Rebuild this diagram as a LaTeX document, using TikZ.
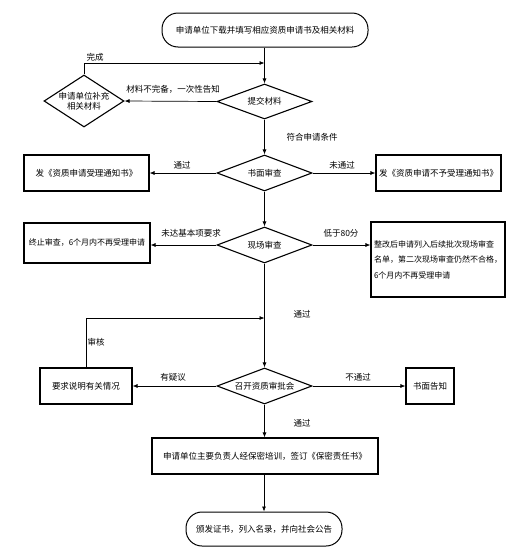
\documentclass[tikz,border=0pt]{standalone}
\usepackage{fontspec}
\setmainfont{Noto Sans CJK SC}
\usetikzlibrary{shapes.geometric,arrows.meta}
\begin{document}
\begin{tikzpicture}[x=1pt,y=-1pt,
  font=\fontsize{8.5}{10}\selectfont,
  box/.style={draw, line width=1.1pt, inner sep=0pt},
  term/.style={draw, line width=1pt, rounded corners=16pt, inner sep=0pt},
  dia/.style={draw, diamond, line width=1.1pt, inner sep=0pt, aspect=2.7},
  conn/.style={line width=0.7pt, -{Latex[length=5pt,width=4pt]}},
  lab/.style={inner sep=1pt}]
\useasboundingbox (0,0) rectangle (521,552);

% nodes
\node[term, minimum width=206, minimum height=34] (start) at (265,30) {申请单位下载并填写相应资质申请书及相关材料};
\node[dia, minimum width=95, minimum height=35] (submit) at (264.5,101.5) {提交材料};
\node[dia, aspect=1.54, inner sep=-3pt, minimum width=80, minimum height=52, align=center] (supp) at (84,101) {申请单位补充\\相关材料};
\node[dia, minimum width=95, minimum height=36] (written) at (264.5,173) {书面审查};
\node[box, minimum width=125, minimum height=36] (accept) at (86.5,173) {发《资质申请受理通知书》};
\node[box, minimum width=125, minimum height=36] (reject) at (438.5,173) {发《资质申请不予受理通知书》};
\node[dia, minimum width=95, minimum height=36] (site) at (264.5,245) {现场审查};
\node[box, minimum width=126, minimum height=40, font=\fontsize{8}{10}\selectfont] (stop) at (87,243) {终止审查，6个月内不再受理申请};
\node[box, minimum width=134, minimum height=75, text width=128, align=left,
      font=\fontsize{8}{15.5}\selectfont] (redo) at (438,259.5)
      {整改后申请列入后续批次现场审查\\名单，第二次现场审查仍然不合格，\\6个月内不再受理申请};
\node[dia, minimum width=95, minimum height=36] (meet) at (264.5,386) {召开资质审批会};
\node[box, minimum width=92, minimum height=36] (explain) at (86,386) {要求说明有关情况};
\node[box, minimum width=48, minimum height=36] (notify) at (430,386) {书面告知};
\node[box, minimum width=226, minimum height=36] (train) at (265,456) {申请单位主要负责人经保密培训，签订《保密责任书》};
\node[term, minimum width=156, minimum height=34] (issue) at (264,529) {颁发证书，列入名录，并向社会公告};

\coordinate (j1) at (264.5,63);
\coordinate (j2) at (264.5,318);

% connectors
\draw[conn] (start.south -| submit.north) -- (submit.north);
\draw[conn] (submit.west) -- (supp.east);
\draw[conn] (supp.north) |- (j1);
\draw[conn] (submit.south) -- (written.north);
\draw[conn] (written.west) -- (accept.east);
\draw[conn] (written.east) -- (reject.west);
\draw[conn] (written.south) -- (site.north);
\draw[conn] (site.west) -- (stop.east |- site.west);
\draw[conn] (site.east) -- (redo.west |- site.east);
\draw[conn] (site.south) -- (meet.north);
\draw[conn] (explain.north) |- (j2);
\draw[conn] (meet.west) -- (explain.east);
\draw[conn] (meet.east) -- (notify.west);
\draw[conn] (meet.south) -- (train.north -| meet.south);
\draw[conn] (train.south -| issue.north) -- (issue.north);

% labels
\node[lab] (l1) at (95,57) {完成};
\node[lab] (l2) at (173,89) {材料不完备，一次性告知};
\node[lab] (l3) at (312,137) {符合申请条件};
\node[lab] (l4) at (182,165) {通过};
\node[lab] (l5) at (342,165) {未通过};
\node[lab] (l6) at (191,233) {未达基本项要求};
\node[lab] (l7) at (341,233) {低于80分};
\node[lab] (l8) at (302,314) {通过};
\node[lab] (l9) at (96,342) {审核};
\node[lab] (l10) at (173,377) {有疑议};
\node[lab] (l11) at (358,377) {不通过};
\node[lab] (l12) at (302,423) {通过};
\end{tikzpicture}
\end{document}
